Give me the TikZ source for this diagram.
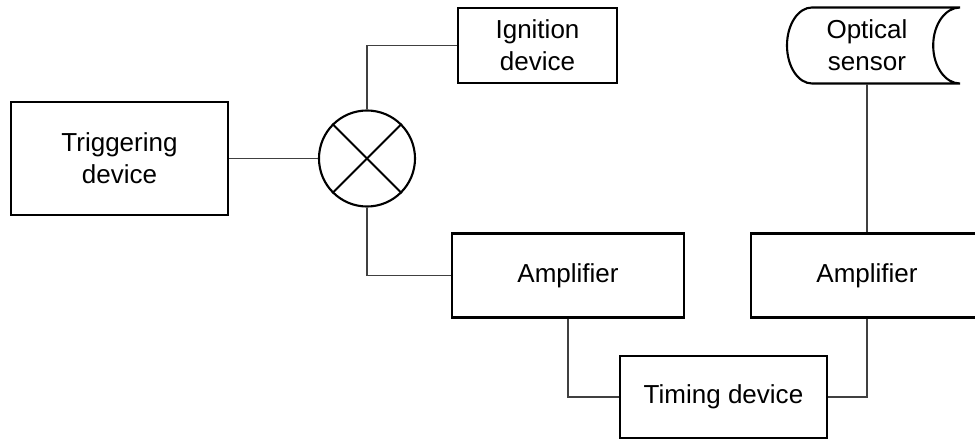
\documentclass[tikz,border=0pt]{standalone}
\usepackage{fontspec}
\setmainfont{Liberation Sans}
\tikzset{
  blockbox/.style={draw,line width=1.5pt,align=center,inner sep=0pt,
    font=\fontsize{18.5}{22.5}\selectfont},
  wire/.style={draw=black!75,line width=0.8pt}
}
\begin{document}
\begin{tikzpicture}[x=0.025cm,y=-0.025cm]
    \useasboundingbox (0,0) rectangle (975,439);
    % blocks
    \node[blockbox,minimum width=5.425cm,minimum height=2.825cm] (trig) at (119.5,158.5) {Triggering\\device};
    \node[draw,circle,line width=1.5pt,minimum size=2.4cm,inner sep=0pt] (mix) at (367,158.5) {};
    \draw[line width=1.5pt] (mix.north west) -- (mix.south east);
    \draw[line width=1.5pt] (mix.north east) -- (mix.south west);
    \node[blockbox,minimum width=3.975cm,minimum height=1.875cm] (ign) at (537.5,45.5) {Ignition\\device};
    \node[blockbox,minimum width=5.8cm,minimum height=2.1cm] (lamp) at (568,275.5) {Amplifier};
    \node[blockbox,minimum width=5.8cm,minimum height=2.1cm] (ramp) at (867,275.5) {Amplifier};
    \node[blockbox,minimum width=5.175cm,minimum height=2.05cm] (timer) at (723.5,397) {Timing device};
    % optical sensor
    \node[blockbox,draw=none,minimum height=1.9cm] (sensor) at (867,45) {Optical\\sensor};
    \draw[line width=1.5pt] (812,7.5) -- (960,7.5)
        arc[start angle=90,end angle=270,x radius=0.67cm,y radius=0.95cm]
        -- (812,83.5)
        arc[start angle=-90,end angle=-270,x radius=0.625cm,y radius=0.95cm];
    % connectors
    \draw[wire] (trig.east) -- (mix.west);
    \draw[wire] (mix.north) |- (ign.west);
    \draw[wire] (mix.south) |- (lamp.west);
    \draw[wire] (lamp.south) |- (timer.west);
    \draw[wire] (ramp.south) |- (timer.east);
    \draw[wire] (sensor.south) -- (ramp.north);
\end{tikzpicture}
\end{document}
